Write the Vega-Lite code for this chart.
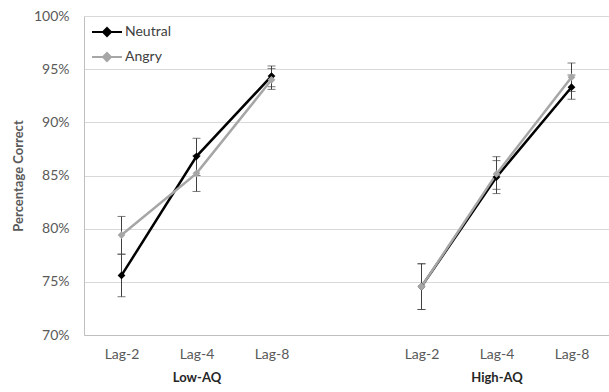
{
  "$schema": "https://vega.github.io/schema/vega-lite/v6.json",
  "width": 525,
  "height": 319,
  "autosize": {"type": "none"},
  "padding": {"left": 84, "top": 16, "right": 0, "bottom": 57},
  "background": "white",
  "config": {
    "font": "Lato",
    "view": {"stroke": null},
    "axis": {"labelFont": "Lato", "titleFont": "Lato"},
    "legend": {"labelFont": "Lato"}
  },
  "datasets": {
    "pts": [
      {"group": "Low-AQ", "lag": "Lag-2", "cond": "Neutral", "pos": 1, "value": 75.6, "lo": 73.6, "hi": 77.6},
      {"group": "Low-AQ", "lag": "Lag-4", "cond": "Neutral", "pos": 2, "value": 86.8, "lo": 85.0, "hi": 88.5},
      {"group": "Low-AQ", "lag": "Lag-8", "cond": "Neutral", "pos": 3, "value": 94.35, "lo": 93.35, "hi": 95.3},
      {"group": "High-AQ", "lag": "Lag-2", "cond": "Neutral", "pos": 5, "value": 74.55, "lo": 72.4, "hi": 76.7},
      {"group": "High-AQ", "lag": "Lag-4", "cond": "Neutral", "pos": 6, "value": 84.85, "lo": 83.3, "hi": 86.4},
      {"group": "High-AQ", "lag": "Lag-8", "cond": "Neutral", "pos": 7, "value": 93.3, "lo": 92.17, "hi": 94.45},
      {"group": "Low-AQ", "lag": "Lag-2", "cond": "Angry", "pos": 1, "value": 79.4, "lo": 77.6, "hi": 81.15},
      {"group": "Low-AQ", "lag": "Lag-4", "cond": "Angry", "pos": 2, "value": 85.2, "lo": 83.5, "hi": 86.9},
      {"group": "Low-AQ", "lag": "Lag-8", "cond": "Angry", "pos": 3, "value": 94.0, "lo": 93.1, "hi": 95.05},
      {"group": "High-AQ", "lag": "Lag-2", "cond": "Angry", "pos": 5, "value": 74.55, "lo": 72.4, "hi": 76.7},
      {"group": "High-AQ", "lag": "Lag-4", "cond": "Angry", "pos": 6, "value": 85.15, "lo": 83.7, "hi": 86.77},
      {"group": "High-AQ", "lag": "Lag-8", "cond": "Angry", "pos": 7, "value": 94.25, "lo": 92.9, "hi": 95.58}
    ],
    "groups": [
      {"pos": 2, "name": "Low-AQ"},
      {"pos": 6, "name": "High-AQ"}
    ]
  },
  "layer": [
    {
      "data": {"name": "pts"},
      "layer": [
        {
          "mark": {"type": "rule", "color": "#404040", "strokeWidth": 1},
          "encoding": {
            "x": {"field": "pos", "type": "quantitative"},
            "y": {"field": "lo", "type": "quantitative"},
            "y2": {"field": "hi"}
          }
        },
        {
          "mark": {"type": "tick", "orient": "horizontal", "color": "#404040", "thickness": 1, "size": 8},
          "encoding": {
            "x": {"field": "pos", "type": "quantitative"},
            "y": {"field": "lo", "type": "quantitative"}
          }
        },
        {
          "mark": {"type": "tick", "orient": "horizontal", "color": "#404040", "thickness": 1, "size": 8},
          "encoding": {
            "x": {"field": "pos", "type": "quantitative"},
            "y": {"field": "hi", "type": "quantitative"}
          }
        },
        {
          "mark": {"type": "line", "strokeWidth": 2.5},
          "encoding": {
            "x": {"field": "pos", "type": "quantitative"},
            "y": {"field": "value", "type": "quantitative"},
            "color": {"field": "cond", "type": "nominal"},
            "detail": {"field": "group"}
          }
        },
        {
          "mark": {"type": "point", "shape": "diamond", "filled": true, "size": 60, "opacity": 1},
          "encoding": {
            "x": {
              "field": "pos", "type": "quantitative",
              "scale": {"domain": [0.5, 7.5], "nice": false, "zero": false},
              "axis": {
                "values": [1, 2, 3, 5, 6, 7],
                "labelExpr": "['', 'Lag-2', 'Lag-4', 'Lag-8', '', 'Lag-2', 'Lag-4', 'Lag-8'][datum.value]",
                "title": null,
                "ticks": false,
                "grid": false,
                "domainColor": "#bfbfbf",
                "labelColor": "#595959",
                "labelFontSize": 14,
                "labelPadding": 12
              }
            },
            "y": {
              "field": "value", "type": "quantitative",
              "scale": {"domain": [70, 100], "nice": false, "zero": false},
              "axis": {
                "values": [70, 75, 80, 85, 90, 95, 100],
                "labelExpr": "datum.value + '%'",
                "title": "Percentage Correct",
                "titleFontWeight": "bold",
                "titleColor": "#595959",
                "titleFontSize": 13,
                "titlePadding": 8,
                "ticks": false,
                "grid": true,
                "gridColor": "#d9d9d9",
                "domainColor": "#bfbfbf",
                "labelColor": "#595959",
                "labelFontSize": 14,
                "labelPadding": 15
              }
            },
            "color": {
              "field": "cond", "type": "nominal",
              "scale": {"domain": ["Neutral", "Angry"], "range": ["#000000", "#a6a6a6"]},
              "legend": {
                "title": null,
                "orient": "none",
                "legendX": 12,
                "legendY": 5,
                "padding": 0,
                "symbolType": "M-1.5,0L1.5,0M0,-0.4L0.4,0L0,0.4L-0.4,0Z",
                "symbolSize": 400,
                "symbolStrokeWidth": 2,
                "labelOffset": 7,
                "labelFontSize": 14,
                "labelColor": "#404040",
                "rowPadding": 6
              }
            }
          }
        }
      ]
    },
    {
      "data": {"name": "groups"},
      "mark": {"type": "tick", "opacity": 0},
      "encoding": {
        "x": {
          "field": "pos", "type": "quantitative",
          "scale": {"domain": [0.5, 7.5], "nice": false, "zero": false},
          "axis": {
            "orient": "bottom",
            "offset": 24,
            "values": [2, 6],
            "labelExpr": "datum.value == 2 ? 'Low-AQ' : 'High-AQ'",
            "title": null,
            "ticks": false,
            "domain": false,
            "grid": false,
            "labelColor": "#262626",
            "labelFontWeight": "bold",
            "labelFontSize": 13,
            "labelPadding": 12
          }
        }
      }
    }
  ],
  "resolve": {"scale": {"x": "independent"}, "axis": {"x": "independent"}}
}
